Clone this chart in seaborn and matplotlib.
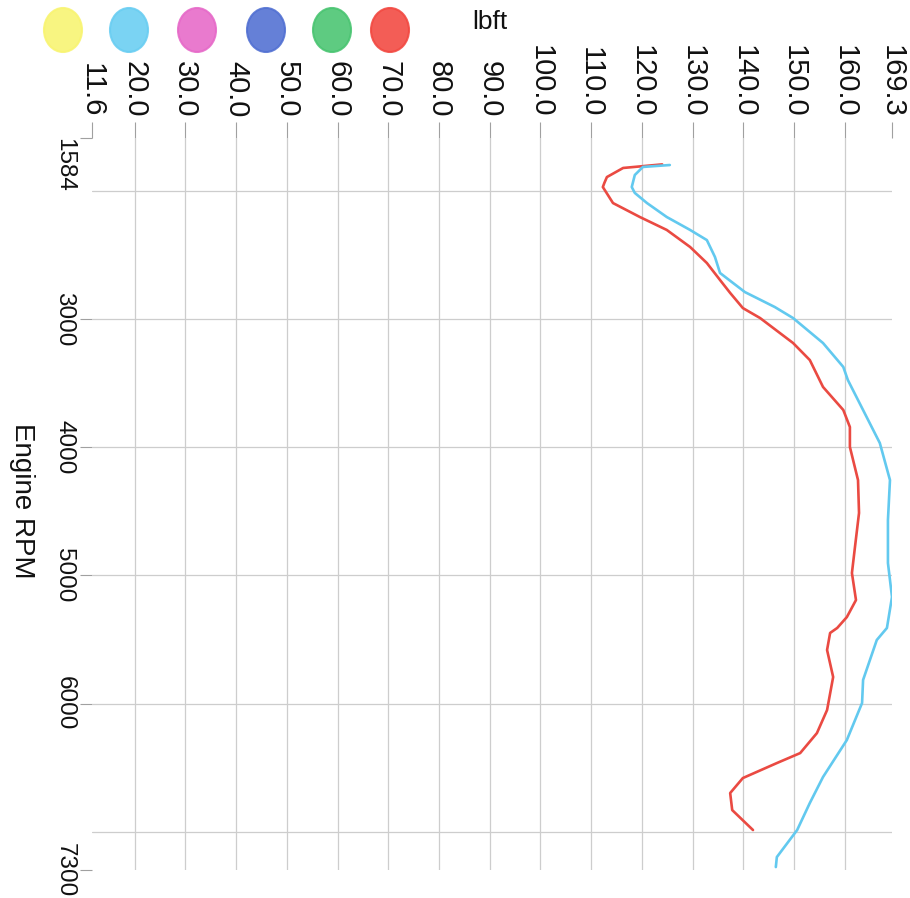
import matplotlib
matplotlib.use("Agg")
import matplotlib.pyplot as plt
from matplotlib.patches import Ellipse
import seaborn as sns
import pandas as pd

# ---- data ----
red_rpm = [1790, 1818, 1889, 1935, 1967, 2092, 2201, 2302, 2435, 2560, 2693, 2794, 2912,
           2990, 3185, 3318, 3528, 3708, 3841, 3997, 4255, 4512, 4778, 4981, 5192, 5325,
           5410, 5449, 5582, 5793, 6051, 6231, 6387, 6465, 6582, 6699, 6832, 6988]
red_tq = [124.0, 116.3, 113.1, 112.6, 112.3, 114.3, 119.6, 124.9, 129.5, 132.8, 135.4, 137.4, 139.9,
          143.3, 149.8, 153.1, 155.7, 159.7, 161.0, 161.0, 162.6, 162.8, 162.0, 161.4, 162.2, 160.4,
          158.5, 157.1, 156.5, 157.7, 156.5, 154.5, 151.2, 146.6, 139.9, 137.4, 137.8, 141.9]

blue_rpm = [1795, 1810, 1873, 1967, 2013, 2092, 2201, 2302, 2381, 2513, 2638, 2693, 2787,
            2904, 2990, 3185, 3372, 3474, 3966, 4255, 4567, 4903, 5168, 5410, 5504, 5816,
            5996, 6285, 6574, 6777, 6988, 7199, 7277]
blue_tq = [125.5, 120.2, 118.6, 118.0, 118.6, 121.0, 124.9, 129.5, 132.8, 134.4, 135.4, 137.2, 140.3,
           146.2, 149.8, 155.7, 159.7, 160.6, 166.9, 168.9, 168.5, 168.5, 169.3, 168.3, 166.3, 163.6,
           163.4, 160.4, 155.7, 153.1, 150.6, 146.6, 146.4]

tq_ticks = [11.6, 20, 30, 40, 50, 60, 70, 80, 90, 100, 110, 120, 130, 140, 150, 160, 169.3]
tq_labels = ["11.6", "20.0", "30.0", "40.0", "50.0", "60.0", "70.0", "80.0", "90.0", "100.0",
             "110.0", "120.0", "130.0", "140.0", "150.0", "160.0", "169.3"]
tq_grid = [20, 30, 40, 50, 60, 70, 80, 90, 100, 110, 120, 130, 140, 150, 160]
rpm_ticks = [1584, 3000, 4000, 5000, 6000, 7300]
rpm_labels = ["1584", "3000", "4000", "5000", "6000", "7300"]
rpm_grid = [2000, 3000, 4000, 5000, 6000, 7000]
legend_colors = ["#f8f470", "#68cdf2", "#e668c8", "#506fd2", "#48c470", "#f2473f"]

df = pd.concat([
    pd.DataFrame({"rpm": red_rpm, "lbft": red_tq, "run": "red"}),
    pd.DataFrame({"rpm": blue_rpm, "lbft": blue_tq, "run": "blue"}),
])

sns.set_theme(style="white")
plt.rcParams["font.family"] = ["Liberation Sans", "DejaVu Sans"]

W, H = 910, 898
fig = plt.figure(figsize=(W / 100, H / 100), dpi=100)
ax = fig.add_axes([92 / W, 1 - 870 / H, 800 / W, 732 / H])

sns.lineplot(data=df, x="lbft", y="rpm", hue="run", orient="y", estimator=None,
             palette={"red": "#ea4a42", "blue": "#62c9ef"}, linewidth=1.9,
             legend=False, ax=ax)

ax.set_xlim(11.6, 169.3)
ax.set_ylim(7300, 1584)
for s in ax.spines.values():
    s.set_visible(False)

ax.xaxis.remove_overlapping_locs = False
ax.yaxis.remove_overlapping_locs = False

# top value axis
ax.xaxis.tick_top()
ax.set_xticks(tq_ticks)
ax.set_xticklabels(tq_labels)
ax.set_xticks(tq_grid, minor=True)
ax.tick_params(axis="x", which="major", top=True, bottom=False, labeltop=True, labelbottom=False,
               labelrotation=-90, length=11.5, width=0.8, color="#a0a0a0", pad=3,
               labelsize=21, labelcolor="#111111")
ax.tick_params(axis="x", which="minor", top=False, bottom=False, length=0)

# left rpm axis
ax.set_yticks(rpm_ticks)
ax.set_yticklabels(rpm_labels)
ax.set_yticks(rpm_grid, minor=True)
ax.tick_params(axis="y", which="major", left=True, labelleft=True, labelrotation=-90,
               length=9, width=0.8, color="#a0a0a0", pad=3, labelsize=17.5, labelcolor="#111111")
ax.tick_params(axis="y", which="minor", left=False, length=0)
for lab in ax.get_yticklabels():
    lab.set_va("center")
ax.get_yticklabels()[0].set_va("top")

ax.grid(False, which="major")
ax.grid(True, which="minor", color="#cdcdcd", linewidth=0.9)

ax.set_ylabel("Engine RPM", rotation=-90, fontsize=20, color="#111111")
ax.yaxis.set_label_coords(-0.0875, 0.505)
ax.yaxis.label.set_va("center")
ax.yaxis.label.set_ha("center")
ax.xaxis.set_label_position("top")
ax.set_xlabel("lbft", fontsize=19, color="#111111")
ax.xaxis.set_label_coords(0.4975, (870 - 22) / 732)
ax.xaxis.label.set_va("center")

# legend swatches
centers = [63, 129, 197, 266, 332, 390]
for cx, col in zip(centers, legend_colors):
    fig.add_artist(Ellipse((cx / W, 1 - 30 / H), 38 / W, 44 / H, transform=fig.transFigure,
                           facecolor=col, edgecolor=col, alpha=0.88, linewidth=1.5))

fig.savefig("out.png", dpi=100, facecolor="white")
